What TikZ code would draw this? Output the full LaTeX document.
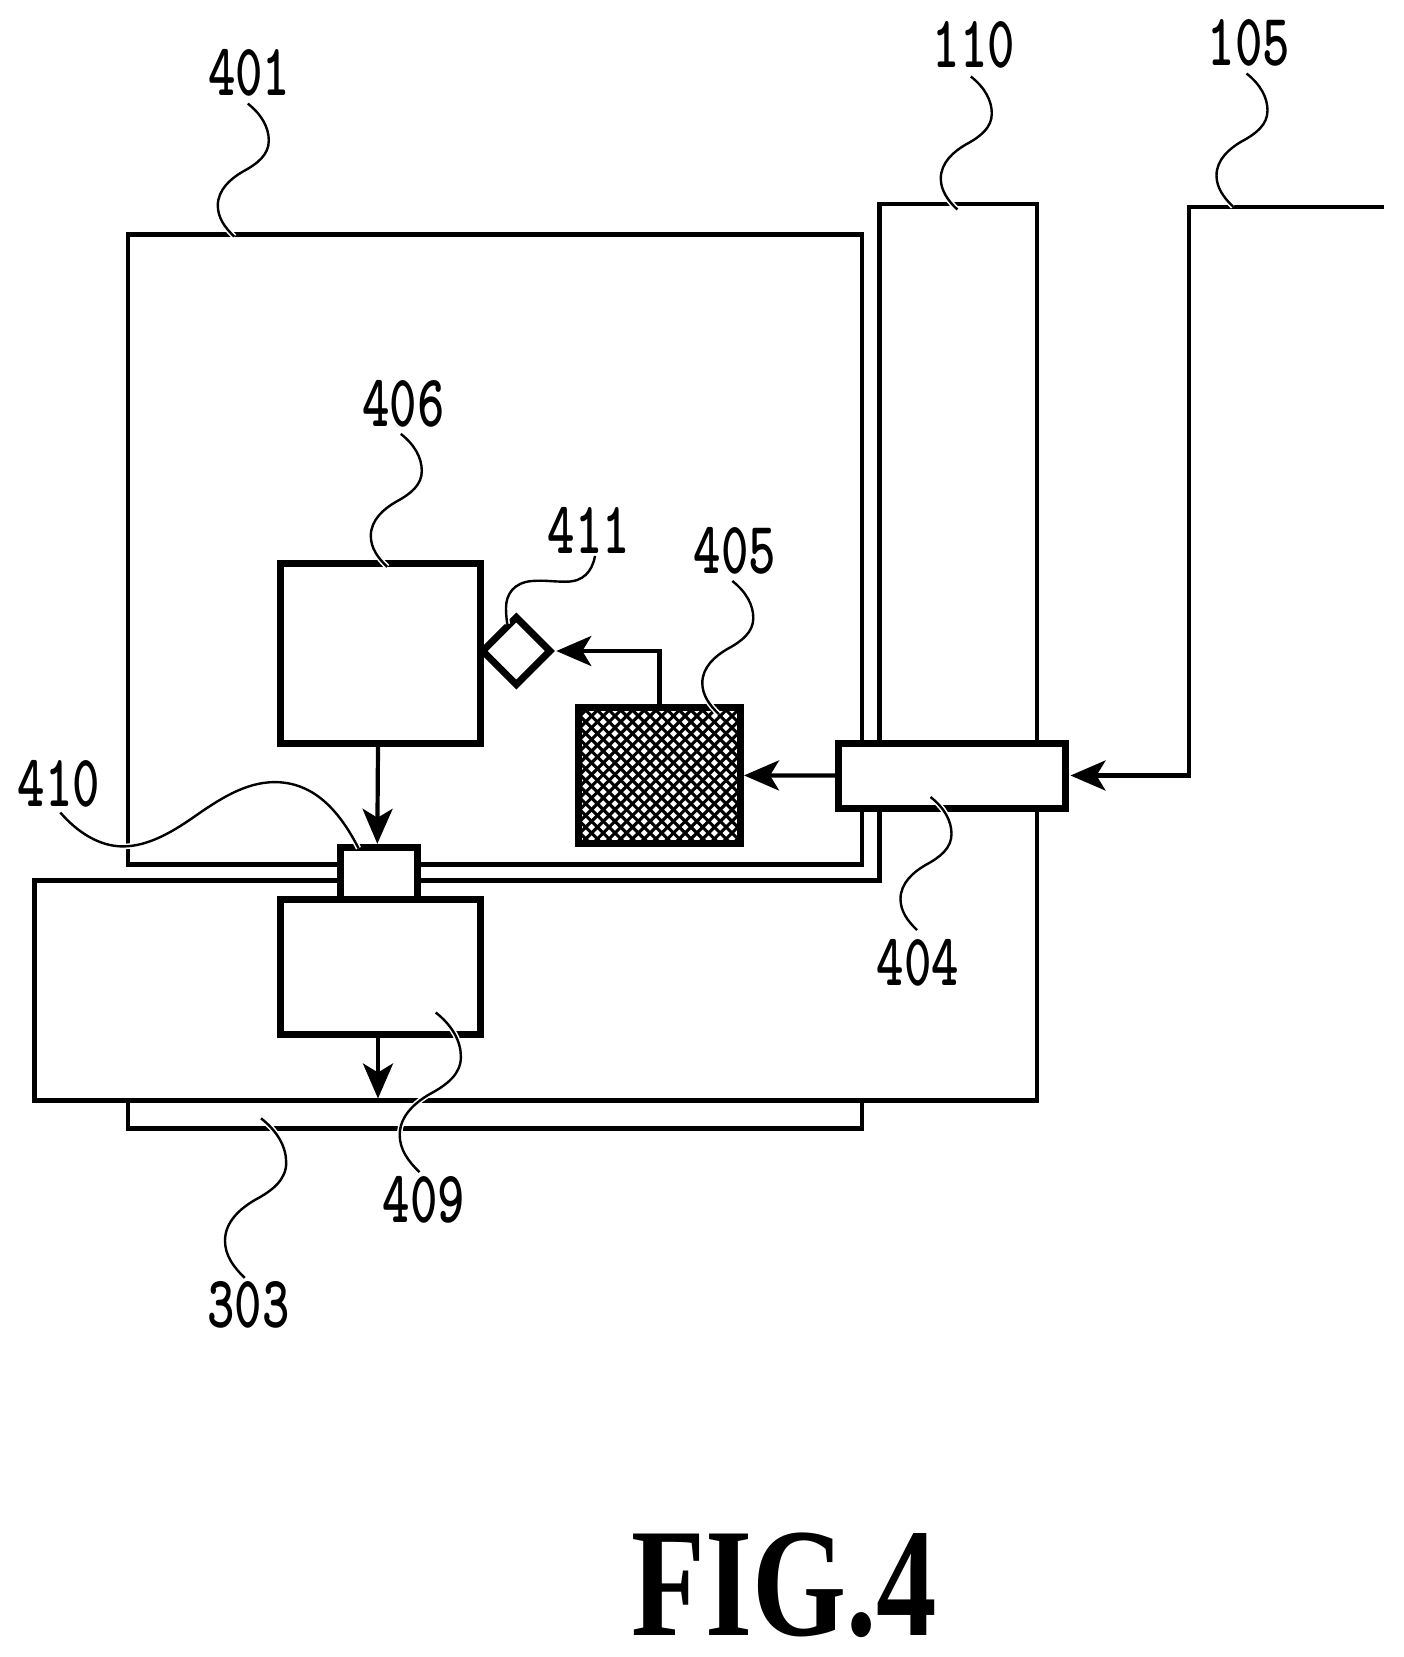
\documentclass[tikz,border=0pt]{standalone}
\usepackage{fontspec}
\setmainfont{Liberation Serif}
\usetikzlibrary{arrows.meta,shapes.geometric}
\tikzset{
  thinbox/.style={draw=black,line width=4.8pt,inner sep=0pt,fill=none},
  thickbox/.style={draw=black,fill=white,line width=7pt,inner sep=0pt,outer sep=.5\pgflinewidth},
  conn/.style={draw=black,line width=4.2pt,-{Stealth[length=35pt,width=30pt,inset=9pt]}},
  leaderline/.style={draw=black,line width=2.4pt,preaction={draw=white,line width=5.5pt}},
  reflabel/.style={anchor=base,inner sep=0pt,font=\fontsize{74}{74}\selectfont\ttfamily\bfseries,xscale=.705,transform shape},
  figlabel/.style={anchor=base west,inner sep=0pt,font=\fontsize{155}{155}\selectfont\bfseries,xscale=.78,transform shape}
}
% wavy leader: start x, start y, scale
\newcommand{\waveleader}[3]{%
  \draw[leaderline,shift={(#1,#2)},scale=#3]
    (0,0) .. controls (14,11) and (21,24) .. (21,37)
    .. controls (21,51) and (10,60) .. (-5,68)
    .. controls (-17,75) and (-30,86) .. (-30,102)
    .. controls (-30,114) and (-23,124) .. (-13.5,133);}
\begin{document}
\begin{tikzpicture}[x=1pt,y=-1pt]
\useasboundingbox (0,0) rectangle (1404,1657);
\fill[white] (0,0) rectangle (1404,1657);

% housing 401, board 303, body 110
\node[thinbox,minimum width=734pt,minimum height=629.5pt] (n401) at (495,549.5) {};
\node[thinbox,minimum width=734pt,minimum height=28.5pt] (n303) at (495,1114.5) {};
\draw[line width=4.8pt,line join=miter]
  (879.5,880.5) -- (879.5,204) -- (1037,204) -- (1037,1100.5) -- (34.5,1100.5) -- (34.5,880.5) -- cycle;
\coordinate (bus110) at (378,1098.5);

% supply line 105
\coordinate (end105) at (1383.5,207);
\coordinate (corner105) at (1189,207);
\coordinate (feed105) at (1189,775.5);

% boxes
\node[thickbox,minimum width=226.5pt,minimum height=65pt] (n404) at (951.75,775.5) {};
\node[thickbox,minimum width=162pt,minimum height=136pt] (n405) at (659.5,775.4) {};
\begin{scope}
  \clip ([xshift=3.4pt,yshift=-3.4pt]n405.north west) rectangle ([xshift=-3.4pt,yshift=3.4pt]n405.south east);
  \foreach \k in {-3,...,27} {
    \pgfmathsetmacro{\c}{1295.85+11.7*\k}
    \draw[line width=3.1pt] ({\c-695},695) -- ({\c-855},855);
  }
  \foreach \k in {-13,...,16} {
    \pgfmathsetmacro{\d}{-136.15+11.7*\k}
    \draw[line width=3.1pt] ({\d+695},695) -- ({\d+855},855);
  }
\end{scope}
\node[thickbox,minimum width=200pt,minimum height=180pt] (n406) at (380,653.3) {};
\node[thickbox,minimum width=77.3pt,minimum height=52.5pt] (n410) at (379.3,873.55) {};
\node[thickbox,minimum width=200pt,minimum height=135pt] (n409) at (380,967.3) {};
\node[thickbox,diamond,aspect=1,minimum width=70pt,minimum height=70pt] (n411) at (516.3,651) {};

% connectors
\draw[conn] ([xshift=-2pt]n406.south) -- ([xshift=-2pt]n410.north);
\draw[conn] ([xshift=-2pt]n409.south) -- (bus110);
\draw[conn] (n404.west) -- (n405.east);
\draw[conn,shorten >=1.5pt] (n405.north) |- (n411.east);
\draw[conn,shorten >=2pt,line join=miter] (end105) -- (corner105) -- (feed105) -- (n404.east);

% labels
\node[reflabel] (l401) at (249.3,95) {401};
\node[reflabel] (l406) at (403.5,426) {406};
\node[reflabel] (l411) at (589,553) {411};
\node[reflabel] (l405) at (735,573) {405};
\node[reflabel] (l410) at (59,806) {410};
\node[reflabel] (l409) at (424,1222) {409};
\node[reflabel] (l303) at (248.5,1327) {303};
\node[reflabel] (l110) at (974,67) {110};
\node[reflabel] (l105) at (1249,65.5) {105};
\node[reflabel] (l404) at (918,985) {404};
\node[figlabel] (fig) at (631,1635) {FIG.4};

% leader lines
\waveleader{247.8}{103.6}{1}
\waveleader{400.8}{433.9}{1}
\waveleader{732.3}{581}{1}
\waveleader{970.8}{76.5}{1}
\waveleader{1246.5}{73.5}{1}
\waveleader{930.5}{797}{1}
\waveleader{261}{1118.3}{1.2}
\waveleader{435.7}{1012.5}{1.2}
\draw[leaderline] (60.3,812.5) .. controls (78,833) and (100,846.4) .. (122.8,846.4)
  .. controls (148,846.4) and (172,832) .. (192,818.3)
  .. controls (218,800) and (245,782.1) .. (274.6,782.1)
  .. controls (312,782.1) and (338,808) .. (358.5,848.2);
\draw[leaderline] (595,556) .. controls (592,572) and (583,581.7) .. (566,581.7)
  .. controls (552,581.7) and (545,580) .. (532,581)
  .. controls (514,582.5) and (506,594) .. (506,608)
  .. controls (506,614) and (506.5,619) .. (507.3,624);
\end{tikzpicture}
\end{document}
